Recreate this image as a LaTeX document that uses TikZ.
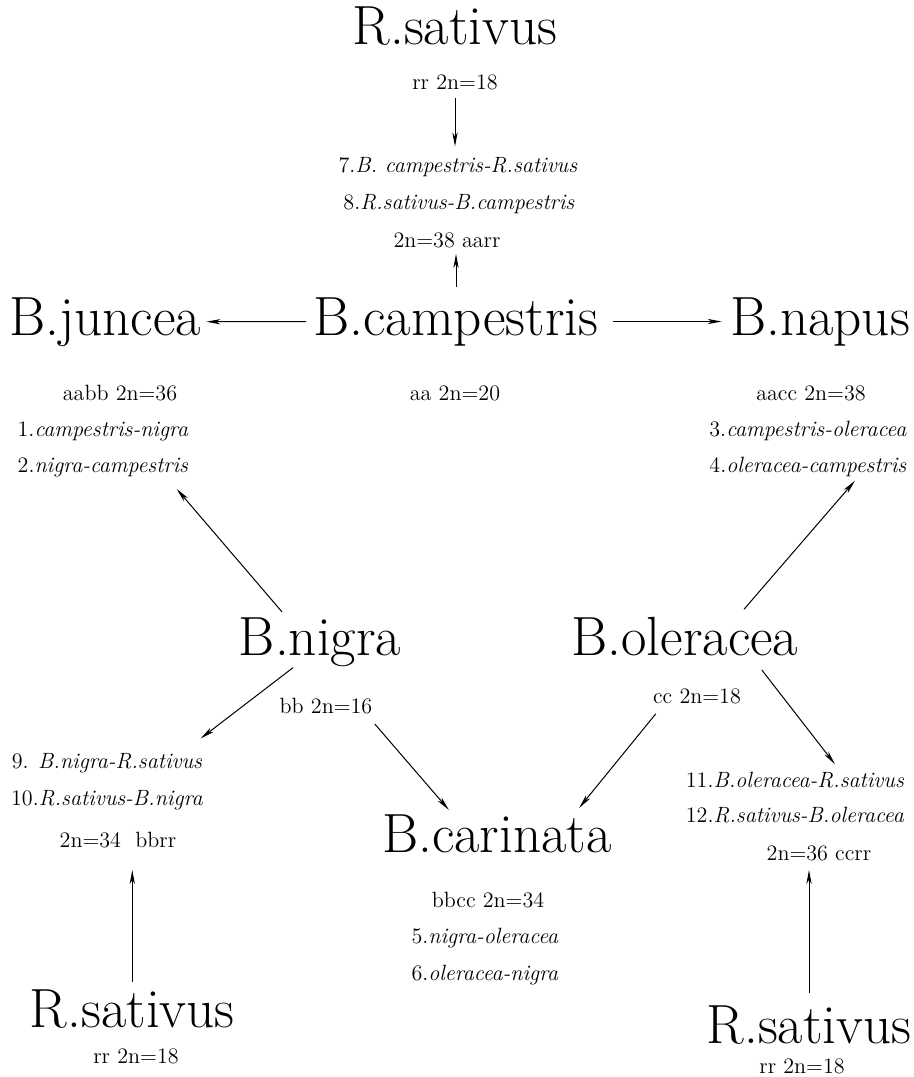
\documentclass[tikz,border=0pt]{standalone}
\usepackage{tikz}
\usetikzlibrary{arrows.meta}

\tikzset{
  species/.style={font=\fontsize{27.5}{32}\selectfont, inner sep=0pt, anchor=base},
  info/.style={font=\fontsize{11}{13}\selectfont, inner sep=0pt, anchor=base},
  cross/.style={-{Stealth[length=7pt, width=2.6pt, inset=2pt]}, line width=0.5pt},
}

\begin{document}
\begin{tikzpicture}[x=0.0175cm, y=-0.0175cm]
  \useasboundingbox (0,0) rectangle (913,1077);
  % species
  \foreach \nm/\x/\y/\txt in {%
    rsT/455/45/{R.sativus},
    camp/456/335/{B.campestris},
    jun/105/335/{B.juncea},
    nap/820/335/{B.napus},
    nig/320/655/{B.nigra},
    ole/685/655/{B.oleracea},
    car/497/852/{B.carinata},
    rsL/132.3/1027/{R.sativus},
    rsR/809/1043/{R.sativus}}{%
    \node[species] (\nm) at (\x,\y) {\txt};
  }
  % genomes and crosses
  \foreach \nm/\x/\y/\txt in {%
    rrT/455/90/{rr 2n=18},
    h7/458/172/{7.\textit{B. campestris-R.sativus}},
    h8/459/209/{8.\textit{R.sativus-B.campestris}},
    h38/447/247/{2n=38 aarr},
    aaI/455/400/{aa 2n=20},
    aabb/120/400/{aabb 2n=36},
    h1/103/436/{1.\textit{campestris-nigra}},
    h2/103/472/{2.\textit{nigra-campestris}},
    aacc/811/400/{aacc 2n=38},
    h3/808/436/{3.\textit{campestris-oleracea}},
    h4/808/472/{4.\textit{oleracea-campestris}},
    bbI/326/713/{bb 2n=16},
    ccI/697/703/{cc 2n=18},
    h9/107/768/{9. \textit{B.nigra-R.sativus}},
    h10/107/805/{10.\textit{R.sativus-B.nigra}},
    h34/118/847/{2n=34~~bbrr},
    h11/795/787/{11.\textit{B.oleracea-R.sativus}},
    h12/795/822/{12.\textit{R.sativus-B.oleracea}},
    h36/819/860/{2n=36 ccrr},
    bbcc/488/907/{bbcc 2n=34},
    h5/485/943/{5.\textit{nigra-oleracea}},
    h6/485/980/{6.\textit{oleracea-nigra}},
    rrL/136/1063/{rr 2n=18},
    rrR/802/1073/{rr 2n=18}}{%
    \node[info] (\nm) at (\x,\y) {\txt};
  }
  % arrows
  \draw[cross, shorten <=3.5pt, shorten >=5pt] (rrT.south) -- (rrT.south |- h7.north);
  \draw[cross, shorten <=5pt, shorten >=3pt] (camp.north) -- (camp.north |- h38.south);
  \draw[cross, shorten <=3.5pt, shorten >=2.5pt] (camp.west) -- (jun.east);
  \draw[cross, shorten <=7pt, shorten >=4pt] (camp.east) -- (nap.west);
  \draw[cross] ([shift={(-38,-5)}]nig.north) -- ([shift={(-12,12)}]h2.south east);
  \draw[cross] ([shift={(59,-7)}]ole.north) -- ([shift={(47,4)}]h4.south);
  \draw[cross] ([shift={(-27,1)}]nig.south) -- ([shift={(-2,-14)}]h9.north east);
  \draw[cross] ([shift={(2,10)}]bbI.south east) -- ([shift={(67,-4)}]car.north west);
  \draw[cross] ([shift={(3,10)}]ccI.south west) -- ([shift={(-33,-6)}]car.north east);
  \draw[cross] ([shift={(-37,14)}]ole.south east) -- ([shift={(40,-7)}]h11.north);
  \draw[cross, shorten <=3.5pt, shorten >=11pt] (rsL.north) -- (rsL.north |- h34.south);
  \draw[cross, shorten <=6pt, shorten >=4.5pt] (rsR.north) -- (rsR.north |- h36.south);
\end{tikzpicture}
\end{document}
